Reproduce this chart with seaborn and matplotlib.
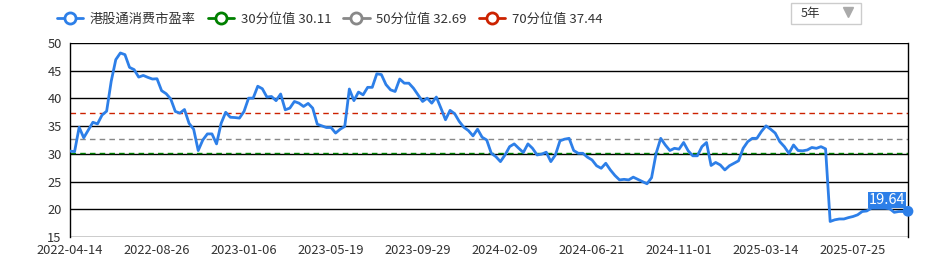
import numpy as np
import pandas as pd
import matplotlib
matplotlib.use("Agg")
import matplotlib.pyplot as plt
from matplotlib.lines import Line2D
from matplotlib.patches import Rectangle
import seaborn as sns

# ---------------- data ----------------
series_name = "港股通消费市盈率"
pe_values = [
    30.5, 30.4, 34.8, 32.9, 34.3, 35.7, 35.4, 37.0, 37.7, 43.1,
    47.0, 48.2, 47.9, 45.6, 45.2, 43.85, 44.15, 43.8, 43.5, 43.55,
    41.4, 40.85, 39.9, 37.65, 37.35, 38.0, 35.5, 34.45, 30.6, 32.5,
    33.6, 33.6, 31.8, 35.5, 37.5, 36.6, 36.55, 36.45, 37.65, 40.05,
    40.05, 42.2, 41.75, 40.25, 40.35, 39.6, 40.8, 37.95, 38.25, 39.45,
    39.15, 38.55, 39.1, 38.25, 35.35, 35.05, 34.75, 34.75, 33.75, 34.45,
    34.95, 41.7, 39.6, 41.15, 40.65, 42.0, 42.0, 44.45, 44.3, 42.5,
    41.55, 41.25, 43.5, 42.75, 42.75, 41.85, 40.65, 39.45, 40.05, 39.15,
    40.25, 38.25, 36.15, 37.85, 37.25, 35.85, 34.8, 34.2, 33.25, 34.45,
    33.0, 32.5, 30.1, 29.5, 28.6, 29.8, 31.3, 31.8, 31.0, 30.25,
    31.8, 31.0, 29.8, 29.95, 30.3, 28.6, 29.8, 32.35, 32.65, 32.8,
    30.6, 30.1, 30.1, 29.4, 28.9, 27.85, 27.4, 28.3, 27.1, 26.1,
    25.3, 25.4, 25.3, 25.8, 25.4, 25.0, 24.6, 25.7, 30.1, 32.8,
    31.6, 30.6, 31.0, 30.85, 32.05, 30.55, 29.65, 29.65, 31.3, 32.05,
    27.9, 28.45, 28.0, 27.1, 27.85, 28.3, 28.75, 31.0, 32.2, 32.8,
    32.8, 34.05, 35.05, 34.45, 33.75, 32.2, 31.3, 30.1, 31.6, 30.6,
    30.55, 30.7, 31.15, 31.0, 31.3, 30.9, 17.8, 18.1, 18.25, 18.25,
    18.5, 18.7, 19.0, 19.6, 19.7, 20.2, 20.2, 20.2, 20.2, 20.1,
    19.45, 19.6, 19.6, 19.64,
]
dates = ["2022-04-14"] + [d.strftime("%Y-%m-%d") for d in
         pd.date_range("2022-04-22", periods=len(pe_values) - 1, freq="7D")]

pct_labels = ["30分位值", "50分位值", "70分位值"]
pct_values = [30.11, 32.69, 37.44]
pct_colors = ["#008000", "#888888", "#cc2200"]

yticks = [15, 20, 25, 30, 35, 40, 45, 50]
xtick_step = 19
period_label = "5年"

# ---------------- style ----------------
sns.set_theme(style="white")
plt.rcParams["font.family"] = ["Noto Sans CJK SC", "DejaVu Sans"]

line_color = "#2d7fe8"
text_color = "#333333"

df = pd.DataFrame({"idx": np.arange(len(pe_values)), "pe": pe_values, "date": dates})

fig = plt.figure(figsize=(9.48, 2.58), dpi=100)
ax = fig.add_axes([70 / 948, 21 / 258, 838 / 948, 194 / 258])

# grid lines
for v in yticks:
    ax.axhline(v, color="black", lw=1.0, zorder=1)

# percentile lines
for v, c in zip(pct_values, pct_colors):
    ax.axhline(v, color=c, lw=1.0, ls=(0, (4, 3)), zorder=2)

sns.lineplot(data=df, x="idx", y="pe", ax=ax, color=line_color, lw=2.0, zorder=3)

# last point marker and label
last_i = df["idx"].iloc[-1]
last_v = df["pe"].iloc[-1]
ax.scatter([last_i], [last_v], s=60, color=line_color, zorder=5, clip_on=False, edgecolors="none")
ax.annotate(f"{last_v:.2f}", xy=(last_i, last_v), xytext=(-2, 3), textcoords="offset points",
            ha="right", va="bottom", color="white", fontsize=10.5, zorder=6,
            bbox=dict(boxstyle="square,pad=0.06", fc=line_color, ec="none"))

ax.set_xlim(0, len(pe_values) - 1)
ax.set_ylim(15, 50)
ax.set_yticks(yticks)
ax.set_yticklabels([str(v) for v in yticks])
tick_pos = list(range(0, len(pe_values), xtick_step))
ax.set_xticks(tick_pos)
ax.set_xticklabels([dates[i] for i in tick_pos])
ax.tick_params(axis="both", length=0, labelsize=9.3, colors=text_color)
ax.tick_params(axis="x", pad=5)
ax.tick_params(axis="y", pad=6)
ax.set_xlabel("")
ax.set_ylabel("")
for s in ["left", "right", "bottom", "top"]:
    ax.spines[s].set_visible(False)
for s in ["left", "right"]:
    ax.spines[s].set_visible(True)
    ax.spines[s].set_color("black")
    ax.spines[s].set_linewidth(1.0)

# legend
handles = [Line2D([0], [0], color=line_color, lw=2, marker="o", markersize=8,
                  markerfacecolor="white", markeredgewidth=2)]
labels = [series_name]
for lab, v, c in zip(pct_labels, pct_values, pct_colors):
    handles.append(Line2D([0], [0], color=c, lw=2, marker="o", markersize=8,
                          markerfacecolor="white", markeredgewidth=2))
    labels.append(f"{lab} {v:.2f}")
fig.legend(handles, labels, loc="center left", bbox_to_anchor=(57 / 948, 1 - 19 / 258),
           ncol=4, frameon=False, fontsize=9.5, handlelength=2.0, handletextpad=0.5,
           columnspacing=0.9, labelcolor=text_color, borderaxespad=0, borderpad=0)

# period selector box
fig.patches.append(Rectangle((791 / 948, 1 - 24 / 258), 70 / 948, 21 / 258,
                             transform=fig.transFigure, fc="white", ec="#cccccc", lw=1))
fig.text(801 / 948, 1 - 13.5 / 258, period_label, fontsize=9, color=text_color, va="center", ha="left")
fig.add_artist(Line2D([848 / 948], [1 - 12 / 258], marker="v", markersize=7, color="#aaaaaa",
                      transform=fig.transFigure, ls="none"))

fig.savefig("out.png", dpi=100)
